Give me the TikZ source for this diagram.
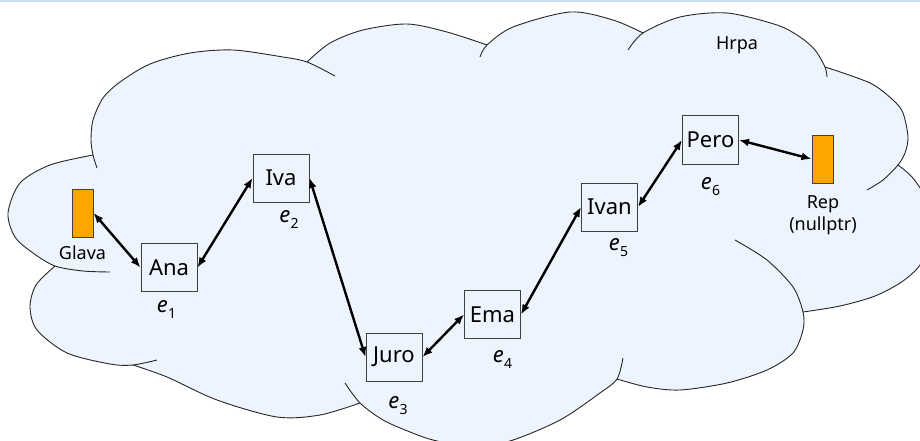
\documentclass[tikz,border=0pt]{standalone}
\usepackage{fontspec}
\setmainfont{Noto Sans}
\usetikzlibrary{arrows.meta}
\definecolor{cloudfill}{RGB}{237,244,254}
\definecolor{boxline}{RGB}{64,64,64}
\definecolor{tagorange}{RGB}{255,165,0}
\definecolor{topband}{RGB}{198,224,244}
\newcommand\elemlabel[1]{\textit{e}\kern0.5pt\raisebox{-6pt}{\fontsize{14}{14}\selectfont #1}}
\tikzset{
  listbox/.style={draw=boxline, line width=1pt, minimum width=56pt, minimum height=48pt,
    inner sep=0pt, font=\fontsize{22}{26}\selectfont},
  ptrbox/.style={draw=boxline, line width=1pt, fill=tagorange, minimum width=21pt,
    minimum height=48pt, inner sep=0pt},
  lbl/.style={anchor=base, inner sep=0pt, font=\fontsize{18}{21}\selectfont},
  elbl/.style={anchor=base, inner sep=0pt, font=\fontsize{22}{26}\selectfont},
  link/.style={line width=2.4pt, {Latex[length=10pt,width=8pt]}-{Latex[length=10pt,width=8pt]}},
  cloudline/.style={line width=0.9pt, draw=black!85},
}
\begin{document}
\begin{tikzpicture}[x=1pt, y=-1pt]
\useasboundingbox (0,0) rectangle (920,441);
\fill[white] (0,0) rectangle (920,441);
\fill[topband] (0,0) rectangle (920,2.5);

% cloud "Hrpa"
\begin{scope}
\clip (0,0) rectangle (920,441);
\fill[cloudfill]
  plot[smooth] coordinates {(93,155) (50,165) (20,183) (8,213) (15,237) (33,253) (55,266)}
  -- plot[smooth] coordinates {(55,266) (36,285) (30,307) (37,330) (67,353) (110,364) (133,365)}
  -- plot[smooth] coordinates {(133,365) (167,377) (217,400) (277,417) (320,415) (360,403)}
  -- plot[smooth] coordinates {(360,403) (383,420) (410,432) (433,440) (470,447) (510,441) (560,420) (600,393) (617,379)}
  -- plot[smooth] coordinates {(617,379) (647,387) (680,390) (727,383) (767,370) (793,353) (803,330) (803,312)}
  -- plot[smooth] coordinates {(803,312) (840,306) (875,296) (903,281) (922,262) (933,228) (925,197) (912,177) (898,165)}
  -- plot[smooth] coordinates {(898,165) (905,153) (908,137) (903,113) (893,100) (870,83) (825,67)}
  -- plot[smooth] coordinates {(825,67) (815,50) (800,37) (777,25) (727,13) (680,17) (643,33)}
  -- plot[smooth] coordinates {(643,33) (613,20) (570,12) (513,27) (487,45)}
  -- plot[smooth] coordinates {(487,45) (447,32) (407,24) (363,30) (330,43) (307,62)}
  -- plot[smooth] coordinates {(307,62) (283,57) (233,50) (190,53) (150,64) (120,82) (103,98) (93,120) (91,140) (93,155)}
  -- cycle;
% bumps of the outline, each with its short inner tail
\draw[cloudline] plot[smooth] coordinates {(93,155) (50,165) (20,183) (8,213) (15,237) (33,253) (55,266) (83,271) (110,272)};
\draw[cloudline] plot[smooth] coordinates {(55,266) (36,285) (30,307) (37,330) (67,353) (110,364) (133,365) (157,360)};
\draw[cloudline] plot[smooth] coordinates {(133,365) (167,377) (217,400) (277,417) (320,415) (360,403)};
\draw[cloudline] plot[smooth] coordinates {(345,383) (360,403) (383,420) (410,432) (433,440) (470,447) (510,441) (560,420) (600,393) (617,379) (623,358)};
\draw[cloudline] plot[smooth] coordinates {(617,379) (647,387) (680,390) (727,383) (767,370) (793,353) (803,330) (803,312) (793,287) (767,260) (735,240)};
\draw[cloudline] plot[smooth] coordinates {(803,312) (840,306) (875,296) (903,281) (922,262) (933,228) (925,197) (912,177) (898,165)};
\draw[cloudline] plot[smooth] coordinates {(825,67) (870,83) (893,100) (903,113) (908,137) (905,153) (898,165) (883,180) (867,190)};
\draw[cloudline] plot[smooth] coordinates {(628,50) (643,33) (680,17) (727,13) (777,25) (800,37) (815,50) (825,67) (827,77)};
\draw[cloudline] plot[smooth] coordinates {(480,57) (487,45) (513,27) (570,12) (613,20) (643,33)};
\draw[cloudline] plot[smooth] coordinates {(307,62) (330,43) (363,30) (407,24) (447,32) (487,45)};
\draw[cloudline] plot[smooth] coordinates {(97,168) (93,155) (91,140) (93,120) (103,98) (120,82) (150,64) (190,53) (233,50) (283,57) (307,62) (335,76)};
\end{scope}

\node[lbl] (hrpa) at (737,50) {Hrpa};

% head and tail pointers
\node[ptrbox] (glava) at (82.5,213) {};
\node[lbl] (glavatxt) at (82.5,259) {Glava};
\node[ptrbox] (rep) at (822.5,159) {};
\node[lbl] (reptxt) at (823,208) {Rep};
\node[lbl] (nulltxt) at (823,230) {(nullptr)};

% list elements
\node[listbox] (ana)  at (169,267.5) {Ana};
\node[listbox] (iva)  at (281,178) {Iva};
\node[listbox] (juro) at (394,357) {Juro};
\node[listbox] (ema)  at (492.5,314.5) {Ema};
\node[listbox] (ivan) at (609.5,207) {Ivan};
\node[listbox] (pero) at (710.5,140) {Pero};

\node[elbl] (e1) at (166.5,312) {\elemlabel{1}};
\node[elbl] (e2) at (289,222) {\elemlabel{2}};
\node[elbl] (e3) at (398,408) {\elemlabel{3}};
\node[elbl] (e4) at (502.5,362) {\elemlabel{4}};
\node[elbl] (e5) at (618.5,250) {\elemlabel{5}};
\node[elbl] (e6) at (710.5,189) {\elemlabel{6}};

% links
\draw[link] (glava.east) -- (ana.west);
\draw[link] (ana.east) -- (iva.west);
\draw[link] (iva.east) -- (juro.west);
\draw[link] (juro.east) -- (ema.west);
\draw[link] (ema.east) -- (ivan.west);
\draw[link] (ivan.east) -- (pero.west);
\draw[link] (pero.east) -- (rep.west);
\end{tikzpicture}
\end{document}
